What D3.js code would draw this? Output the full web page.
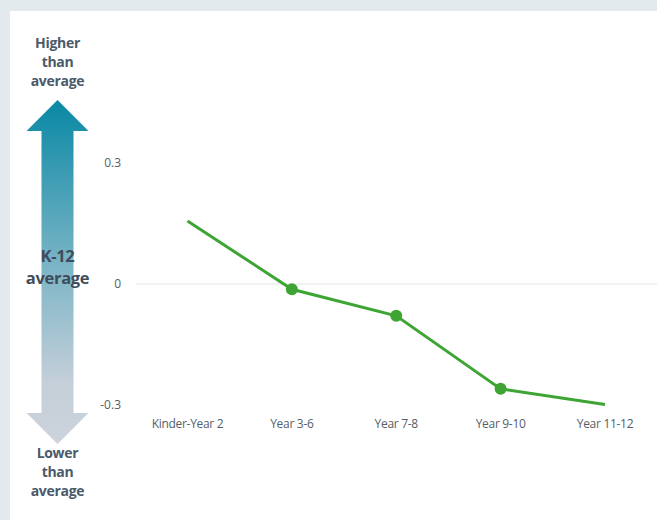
<!DOCTYPE html>
<html><head><meta charset="utf-8">
<script src="https://cdn.jsdelivr.net/npm/d3@7"></script>
<style>
html,body{margin:0;padding:0;background:#e3eaee;}
svg{display:block;}
</style></head>
<body>
<svg id="chart" width="657" height="520"></svg>
<script>
const categories = ["Kinder-Year 2","Year 3-6","Year 7-8","Year 9-10","Year 11-12"];
const values = [0.156, -0.013, -0.079, -0.26, -0.299];
const showMarker = [false, true, true, true, false];
const yTicks = [-0.3, 0, 0.3];
const yTickLabels = ["-0.3","0","0.3"];
const topLabel = ["Higher","than","average"];
const midLabel = ["K-12","average"];
const bottomLabel = ["Lower","than","average"];

const W = 657, H = 520;
const svg = d3.select("#chart");
svg.append("rect").attr("x",0).attr("y",0).attr("width",W).attr("height",H).attr("fill","#e3eaee");
svg.append("rect").attr("x",10).attr("y",11).attr("width",W-10).attr("height",H-11).attr("fill","#ffffff");

const x = d3.scalePoint().domain(categories).range([187.5, 605]);
const y = d3.scaleLinear().domain([-0.3, 0.3]).range([405, 163]);

// gradient arrow
const defs = svg.append("defs");
const grad = defs.append("linearGradient").attr("id","arrowGrad").attr("x1",0).attr("y1",0).attr("x2",0).attr("y2",1);
grad.append("stop").attr("offset","0%").attr("stop-color","#0888a4");
grad.append("stop").attr("offset","50%").attr("stop-color","#7fb6c7");
grad.append("stop").attr("offset","82%").attr("stop-color","#c4cfd9");
grad.append("stop").attr("offset","100%").attr("stop-color","#ccd3dc");

const ax = 57.5, shaftW = 32, headW = 62;
const topTip = 100, topBase = 131, botBase = 413, botTip = 444;
const arrowPath = d3.path();
arrowPath.moveTo(ax, topTip);
arrowPath.lineTo(ax + headW/2, topBase);
arrowPath.lineTo(ax + shaftW/2, topBase);
arrowPath.lineTo(ax + shaftW/2, botBase);
arrowPath.lineTo(ax + headW/2, botBase);
arrowPath.lineTo(ax, botTip);
arrowPath.lineTo(ax - headW/2, botBase);
arrowPath.lineTo(ax - shaftW/2, botBase);
arrowPath.lineTo(ax - shaftW/2, topBase);
arrowPath.lineTo(ax - headW/2, topBase);
arrowPath.closePath();
svg.append("path").attr("d", arrowPath.toString()).attr("fill","url(#arrowGrad)");

const font = "'Open Sans', 'Noto Sans', sans-serif";
function stack(lines, x0, y0, dy, size, color){
  svg.append("g").selectAll("text").data(lines).join("text")
    .attr("x", x0).attr("y", (d,i)=> y0 + i*dy)
    .attr("text-anchor","middle")
    .attr("font-family", font).attr("font-weight", 700)
    .attr("font-size", size).attr("fill", color)
    .attr("letter-spacing", "-0.3px")
    .text(d=>d);
}
stack(topLabel, ax, 48, 19, 14, "#4b5a6b");
stack(bottomLabel, ax, 458, 19, 14, "#4b5a6b");
stack(midLabel, ax, 262, 22, 16.5, "#3f4c5c");

// zero gridline
svg.append("g").selectAll("line").data(yTicks.filter(d=>d===0)).join("line")
  .attr("x1",136).attr("x2",W).attr("y1",d=>y(d)).attr("y2",d=>y(d))
  .attr("stroke","#e2e6eb").attr("stroke-width",1);

// y tick labels
svg.append("g").selectAll("text").data(yTicks).join("text")
  .attr("x",121).attr("y",d=>y(d)).attr("dy","0.35em")
  .attr("text-anchor","end").attr("font-family", font).attr("font-size",12)
  .attr("fill","#555e68").text((d,i)=>yTickLabels[i]);

// x labels
svg.append("g").selectAll("text").data(categories).join("text")
  .attr("x",d=>x(d)).attr("y",428)
  .attr("text-anchor","middle").attr("font-family", font).attr("font-size",12)
  .attr("letter-spacing","-0.3px")
  .attr("fill","#555e68").text(d=>d);

const data = categories.map((c,i)=>({c, v: values[i], m: showMarker[i]}));
const line = d3.line().x(d=>x(d.c)).y(d=>y(d.v));
svg.append("path").datum(data).attr("d", line).attr("fill","none")
  .attr("stroke","#3ea535").attr("stroke-width",3);
svg.append("g").selectAll("circle").data(data.filter(d=>d.m)).join("circle")
  .attr("cx",d=>x(d.c)).attr("cy",d=>y(d.v)).attr("r",6).attr("fill","#3ea535");
</script>
</body></html>
